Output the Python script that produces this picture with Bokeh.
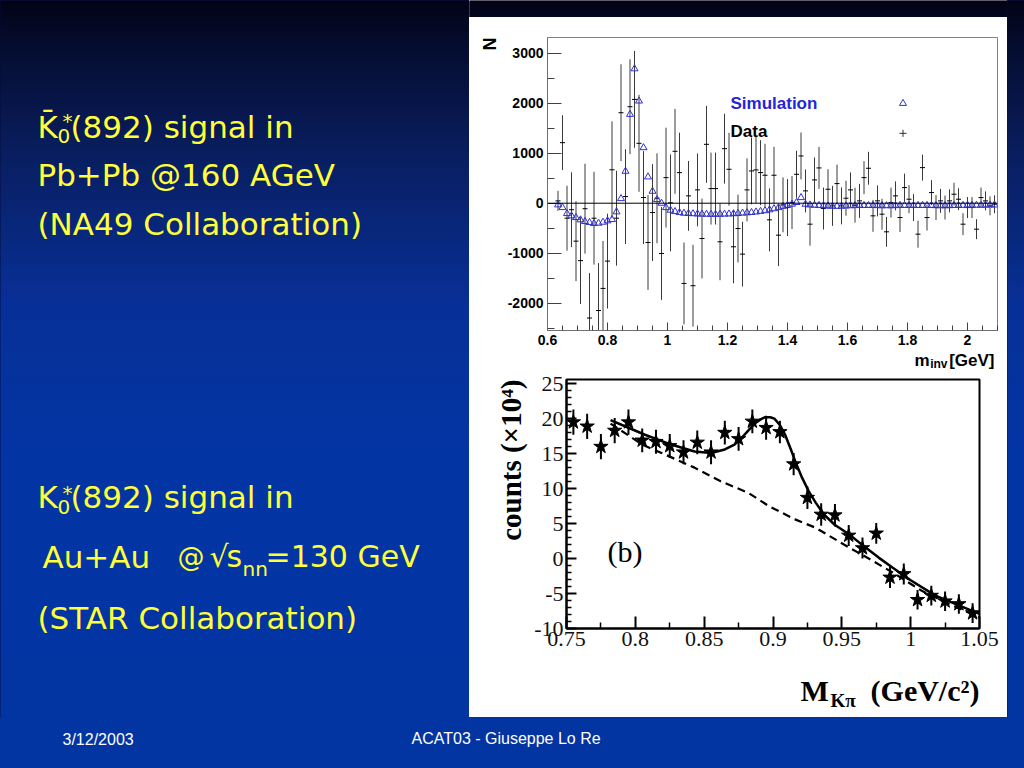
import numpy as np
from bokeh.plotting import figure
from bokeh.layouts import row, column
from bokeh.models import Range1d, FixedTicker, CustomJSTickFormatter, Label, Title, Span
from bokeh.core.properties import value
from bokeh.embed import file_html
from bokeh.resources import INLINE

# ---------------- data: NA49 Pb+Pb (top panel) ----------------
na49_mass = [0.635, 0.650, 0.665, 0.680, 0.695, 0.710, 0.725, 0.740, 0.755, 0.770,
             0.785, 0.800, 0.815, 0.830, 0.845, 0.860, 0.875, 0.890, 0.905, 0.920,
             0.935, 0.950, 0.965, 0.980, 0.995, 1.010, 1.025, 1.040, 1.055, 1.070,
             1.085, 1.100, 1.115, 1.130, 1.145, 1.160, 1.175, 1.190, 1.205, 1.220,
             1.235, 1.250, 1.265, 1.280, 1.295, 1.310, 1.325, 1.340, 1.355, 1.370,
             1.385, 1.400, 1.415, 1.430, 1.445, 1.460, 1.475, 1.490, 1.505, 1.520,
             1.535, 1.550, 1.565, 1.580, 1.595, 1.610, 1.625, 1.640, 1.655, 1.670,
             1.685, 1.700, 1.715, 1.730, 1.745, 1.760, 1.775, 1.790, 1.805, 1.820,
             1.835, 1.850, 1.865, 1.880, 1.895, 1.910, 1.925, 1.940, 1.955, 1.970,
             1.985, 2.000, 2.015, 2.030, 2.045, 2.060, 2.075, 2.090]
na49_sim = [-33, -87, -207, -253, -287, -333, -367, -387, -407, -400,
            -380, -353, -327, -173, 93, 640, 1780, 2693, 2047, 1113,
            527, 240, 73, 0, -87, -140, -167, -187, -200, -205,
            -210, -215, -218, -220, -222, -222, -220, -218, -215, -210,
            -205, -198, -192, -185, -175, -163, -150, -132, -110, -88,
            -62, -40, -18, 15, 113, -20, -35, -40, -45, -50,
            -55, -60, -62, -60, -55, -50, -48, -45, -45, -45,
            -45, -48, -50, -50, -50, -48, -45, -45, -45, -45,
            -45, -45, -45, -45, -48, -50, -50, -48, -45, -45,
            -42, -40, -40, -40, -40, -38, -35, -35]
na49_data = [47, 1213, -300, -130, -760, -1150, -110, -2300, -300, -2150,
             -1707, -1160, 670, -300, 1813, 133, 1933, 2080, 1200, 113,
             -787, -187, 100, -1007, 513, 7, 1040, 613, -1607, 147,
             -1653, 267, -707, 1180, 293, 293, -773, 1093, 680, -873,
             -507, -1020, 267, 647, 667, 613, 560, -333, 560, -640,
             -33, -87, 13, 580, 947, 247, -420, 467, 707, -107,
             280, -53, 393, -53, 100, 267, -40, 47, 513, 700,
             -253, 47, -220, -573, 13, 147, -287, 313, 80, -87,
             -620, 713, -287, 213, -87, 47, -87, 47, 180, 80,
             -420, -87, -87, -520, 113, 47, -53, -20]
na49_err = [200, 550, 650, 750, 800, 870, 900, 900, 930, 950,
            950, 950, 970, 950, 970, 950, 950, 970, 970, 930,
            950, 970, 900, 930, 1000, 970, 850, 800, 820, 700,
            820, 730, 800, 770, 720, 720, 770, 700, 730, 730,
            680, 650, 630, 670, 670, 650, 630, 630, 570, 620,
            550, 570, 530, 470, 470, 430, 430, 450, 420, 420,
            400, 400, 380, 370, 350, 350, 350, 340, 330, 330,
            320, 310, 310, 300, 300, 290, 290, 280, 280, 270,
            270, 260, 260, 250, 250, 240, 240, 230, 230, 220,
            220, 210, 210, 200, 200, 190, 190, 180]
na49_xticks = [0.6, 0.8, 1.0, 1.2, 1.4, 1.6, 1.8, 2.0]
na49_xminor = [0.65, 0.7, 0.75, 0.85, 0.9, 0.95, 1.05, 1.1, 1.15, 1.25, 1.3, 1.35,
               1.45, 1.5, 1.55, 1.65, 1.7, 1.75, 1.85, 1.9, 1.95, 2.05, 2.1]
na49_yticks = [-2000, -1000, 0, 1000, 2000, 3000]
na49_yminor = [-2500, -1500, -500, 500, 1500, 2500]
na49_legend = ["Simulation", "Data"]

# ---------------- data: STAR Au+Au (bottom panel) ----------------
star_mass = [0.755, 0.765, 0.775, 0.785, 0.795, 0.805, 0.815, 0.825, 0.835, 0.845,
             0.855, 0.865, 0.875, 0.885, 0.895, 0.905, 0.915, 0.925, 0.935, 0.945,
             0.955, 0.965, 0.975, 0.985, 0.995, 1.005, 1.015, 1.025, 1.035, 1.045]
star_counts = [19.5, 18.9, 16.0, 18.3, 19.5, 16.9, 16.7, 16.1, 15.2, 16.6,
               15.2, 18.0, 17.1, 19.6, 18.7, 18.1, 13.5, 8.7, 6.3, 6.2,
               3.3, 1.5, 3.6, -2.7, -2.2, -5.9, -5.3, -6.1, -6.5, -7.8]
star_err = [1.8, 1.8, 1.8, 1.8, 1.8, 1.7, 1.7, 1.7, 1.7, 1.7,
            1.7, 1.7, 1.7, 1.7, 1.7, 1.6, 1.6, 1.6, 1.6, 1.6,
            1.5, 1.5, 1.5, 1.5, 1.5, 1.4, 1.4, 1.4, 1.4, 1.4]
fit_mass = [0.782, 0.795, 0.807, 0.826, 0.843, 0.855, 0.865, 0.872, 0.877, 0.882,
            0.887, 0.891, 0.894, 0.898, 0.901, 0.905, 0.909, 0.913, 0.916, 0.921,
            0.926, 0.931, 0.937, 0.945, 0.955, 0.967, 0.977, 0.987, 1.000, 1.018,
            1.035, 1.050]
fit_total = [19.8, 18.7, 17.7, 16.3, 15.3, 15.1, 15.6, 16.3, 17.2, 18.3,
             19.35, 19.9, 20.2, 20.2, 20.0, 19.1, 17.6, 15.6, 14.0, 11.6,
             9.6, 8.0, 6.3, 4.8, 3.5, 1.6, 0.1, -1.3, -3.1, -5.3,
             -6.7, -7.9]
bkg_mass = [0.782, 0.805, 0.819, 0.843, 0.862, 0.882, 0.897, 0.916, 0.931, 0.955,
            0.966, 0.987, 1.008, 1.028, 1.050]
bkg_counts = [19.3, 16.3, 15.1, 13.0, 11.05, 9.4, 7.5, 5.6, 4.4, 1.6,
              0.4, -2.0, -4.6, -6.5, -8.4]
star_xticks = [0.75, 0.8, 0.85, 0.9, 0.95, 1.0, 1.05]
star_xminor = [0.775, 0.825, 0.875, 0.925, 0.975, 1.025]
star_yticks = [-10, -5, 0, 5, 10, 15, 20, 25]
star_yminor = [-9, -8, -7, -6, -4, -3, -2, -1, 1, 2, 3, 4, 6, 7, 8, 9, 11, 12, 13, 14,
               16, 17, 18, 19, 21, 22, 23, 24]

# ---------------- slide texts ----------------
footer_date = "3/12/2003"
footer_talk = "ACAT03 - Giuseppe Lo Re"

# ---------------- background gradient ----------------
BG_Y = [0, 40, 150, 300, 450, 768]
BG_RGB = [(2, 3, 22), (5, 12, 45), (10, 30, 95), (8, 48, 150), (4, 54, 165), (2, 52, 162)]


def bg_hex(y):
    r = np.interp(y, BG_Y, [c[0] for c in BG_RGB])
    g = np.interp(y, BG_Y, [c[1] for c in BG_RGB])
    b = np.interp(y, BG_Y, [c[2] for c in BG_RGB])
    return "#%02x%02x%02x" % (int(r), int(g), int(b))


def base_panel(x0, x1, y0, y1, fill):
    p = figure(width=x1 - x0, height=y1 - y0, x_range=Range1d(x0, x1), y_range=Range1d(y1, y0),
               toolbar_location=None, output_backend="svg", min_border=0, title=None,
               x_axis_location=None, y_axis_location=None)
    p.frame_align = False
    p.grid.visible = False
    p.outline_line_color = None
    p.background_fill_color = fill
    p.border_fill_color = fill
    return p


def panel(x0, x1, y0, y1):
    p = base_panel(x0, x1, y0, y1, bg_hex(y0))
    tops = np.arange(y0, y1, 2)
    cols = [bg_hex(t + 1) for t in tops]
    p.quad(left=x0 - 2, right=x1 + 2, top=tops, bottom=tops + 2.6, fill_color=cols, line_color=None)
    return p


def txt(p, x, y, s, size, color="#ffff33", font="DejaVu Sans", style="normal", align="left"):
    # y is the vertical centre of the text line (screen pixels)
    p.text(x=[x], y=[y], text=[s], text_font=value(font), text_font_size=value("%dpx" % size),
           text_color=color, text_font_style=style, text_baseline="middle", text_align=align)


YEL = "#ffff3a"
FS = 31
# left panel (screen coords)
left = panel(0, 469, 0, 717)
txt(left, 37, 126, "K\u0304", FS, YEL)
txt(left, 57, 135, "0", 20, YEL)
txt(left, 62, 120, "*", 20, YEL)
txt(left, 70, 126, "(892) signal in", FS, YEL)
txt(left, 37, 174, "Pb+Pb @160 AGeV", FS, YEL)
txt(left, 37, 223, "(NA49 Collaboration)", FS, YEL)
txt(left, 37, 496, "K", FS, YEL)
txt(left, 57, 506, "0", 20, YEL)
txt(left, 62, 492, "*", 20, YEL)
txt(left, 70, 496, "(892) signal in", FS, YEL)
txt(left, 42, 556, "Au+Au", FS, YEL)
txt(left, 177, 556, "@", 27, YEL)
txt(left, 209, 556, "\u221a", FS - 1, YEL)
txt(left, 226, 556, "s", FS - 1, YEL)
txt(left, 242, 568, "nn", 20, YEL)
txt(left, 265, 556, "=130 GeV", FS - 1, YEL)
txt(left, 37, 617, "(STAR Collaboration)", FS, YEL)

top_strip = panel(469, 1007, 0, 17)
right_strip = panel(1007, 1024, 0, 717)
footer = panel(0, 1024, 717, 768)
txt(footer, 62, 739, footer_date, 16, "white", "Liberation Sans")
txt(footer, 411, 738, footer_talk, 16, "white", "Liberation Sans")

fmt_code = "return String(Math.round(tick*1000)/1000);"

# ---------------- top panel: NA49 ----------------
tp = figure(width=538, height=333, x_range=Range1d(0.6, 2.1), y_range=Range1d(-2550, 3320),
            toolbar_location=None, output_backend="svg", title=None,
            min_border_left=78, min_border_right=10, min_border_top=20, min_border_bottom=20)
tp.frame_align = False
tp.background_fill_color = "white"
tp.border_fill_color = "white"
tp.grid.visible = False
tp.outline_line_color = "#808080"
tp.xaxis.ticker = FixedTicker(ticks=na49_xticks, minor_ticks=na49_xminor)
tp.yaxis.ticker = FixedTicker(ticks=na49_yticks, minor_ticks=na49_yminor)
for ax in (tp.xaxis[0], tp.yaxis[0]):
    ax.formatter = CustomJSTickFormatter(code=fmt_code)
    ax.major_tick_out = 0
    ax.minor_tick_out = 0
    ax.axis_line_color = "#707070"
    ax.major_tick_line_color = "#404040"
    ax.minor_tick_line_color = "#404040"
    ax.major_label_text_font = "Liberation Sans"
    ax.major_label_text_font_style = "bold"
    ax.major_label_text_color = "black"
tp.xaxis.major_tick_in = 8
tp.xaxis.minor_tick_in = 5
tp.xaxis.major_label_text_font_size = "14px"
tp.xaxis.major_label_standoff = 4
tp.yaxis.major_tick_in = 14
tp.yaxis.minor_tick_in = 7
tp.yaxis.major_label_text_font_size = "14px"
tp.yaxis.major_label_standoff = 4
tp.add_layout(Title(text="N", align="right", text_font="Liberation Sans", text_font_size="18px",
                    text_font_style="bold", text_color="black"), "left")
tp.add_layout(Span(location=0, dimension="width", line_color="black", line_width=1))

lo = [d - e for d, e in zip(na49_data, na49_err)]
hi = [d + e for d, e in zip(na49_data, na49_err)]
tp.segment(x0=na49_mass, y0=lo, x1=na49_mass, y1=hi, line_color="#3a3a3a", line_width=1)
tp.scatter(x=na49_mass, y=na49_data, marker="dash", size=5, line_color="black", line_width=1)
tp.scatter(x=na49_mass, y=na49_sim, marker="triangle", size=7, fill_color=None,
           line_color="#3030d0", line_width=1)
# legend (text left, symbol right, as in the ROOT picture)
tp.add_layout(Label(x=1.21, y=2000, text=na49_legend[0], text_font="Liberation Sans",
                    text_font_size="17px", text_font_style="bold", text_color="#2424d8",
                    text_baseline="middle"))
tp.add_layout(Label(x=1.21, y=1430, text=na49_legend[1], text_font="Liberation Sans",
                    text_font_size="17px", text_font_style="bold", text_color="black",
                    text_baseline="middle"))
tp.scatter(x=[1.785], y=[2000], marker="triangle", size=7, fill_color=None, line_color="#3030d0")
tp.scatter(x=[1.785], y=[1400], marker="cross", size=7, line_color="#333333")

# strip under the top panel holding its x-axis title m_inv[GeV]
tp_lab = base_panel(469, 1007, 350, 371, "white")
txt(tp_lab, 994, 360, "[GeV]", 17, "black", "Liberation Sans", "bold", "right")
txt(tp_lab, 947, 363.5, "inv", 12, "black", "Liberation Sans", "bold", "right")
txt(tp_lab, 929, 360, "m", 17, "black", "Liberation Sans", "bold", "right")

# ---------------- bottom panel: STAR ----------------
bp = figure(width=538, height=289, x_range=Range1d(0.75, 1.05), y_range=Range1d(-10, 25.6),
            toolbar_location=None, output_backend="svg", title=None,
            min_border_left=97, min_border_right=28, min_border_top=8, min_border_bottom=32)
bp.frame_align = False
bp.background_fill_color = "white"
bp.border_fill_color = "white"
bp.grid.visible = False
bp.outline_line_color = "black"
bp.outline_line_width = 2
bp.xaxis.ticker = FixedTicker(ticks=star_xticks, minor_ticks=star_xminor)
bp.yaxis.ticker = FixedTicker(ticks=star_yticks, minor_ticks=star_yminor)
for ax in (bp.xaxis[0], bp.yaxis[0]):
    ax.formatter = CustomJSTickFormatter(code=fmt_code)
    ax.major_tick_out = 0
    ax.minor_tick_out = 0
    ax.axis_line_color = "black"
    ax.axis_line_width = 2
    ax.major_tick_line_color = "black"
    ax.major_tick_line_width = 2
    ax.minor_tick_line_color = "black"
    ax.minor_tick_line_width = 1.5
    ax.major_label_text_font = "Liberation Serif"
    ax.major_label_text_font_size = "22px"
    ax.major_label_text_color = "#111111"
    ax.major_label_standoff = 3
bp.xaxis.major_tick_in = 12
bp.xaxis.minor_tick_in = 6
bp.yaxis.major_tick_in = 10
bp.yaxis.minor_tick_in = 5
bp.add_layout(Title(text="counts (\u00d710\u2074)", align="right", text_font="Liberation Serif",
                    text_font_size="29px", text_font_style="bold", text_color="black",
                    standoff=10), "left")

blo = [c - e for c, e in zip(star_counts, star_err)]
bhi = [c + e for c, e in zip(star_counts, star_err)]
bp.segment(x0=star_mass, y0=blo, x1=star_mass, y1=bhi, line_color="black", line_width=2)
bp.line(x=bkg_mass, y=bkg_counts, line_color="black", line_width=2.2, line_dash="8 5")
bp.line(x=fit_mass, y=fit_total, line_color="black", line_width=2.5)
bp.scatter(x=star_mass, y=star_counts, marker="star", size=15, fill_color="black", line_color="black")
bp.add_layout(Label(x=0.7798, y=1.0, text="(b)", text_font="Liberation Serif",
                    text_font_size="30px", text_color="black", text_baseline="middle"))

# strip under the bottom panel holding its x-axis title M_Kpi (GeV/c^2)
bp_lab = base_panel(469, 1007, 660, 717, "white")
txt(bp_lab, 800, 690, "M", 30, "black", "Liberation Serif", "bold")
txt(bp_lab, 830, 700, "K\u03c0", 19, "black", "Liberation Serif", "bold")
txt(bp_lab, 979, 690, "(GeV/c\u00b2)", 30, "black", "Liberation Serif", "bold", "right")

plots_col = column(top_strip, tp, tp_lab, bp, bp_lab)
plots_col.styles = {"background-color": "white"}
main_row = row(left, plots_col, right_strip)
main_row.styles = {"background-color": "#08185a"}
layout = column(main_row, footer)
layout.styles = {"background-color": "#02349f"}
open("out.html", "w").write(file_html(layout, INLINE))
